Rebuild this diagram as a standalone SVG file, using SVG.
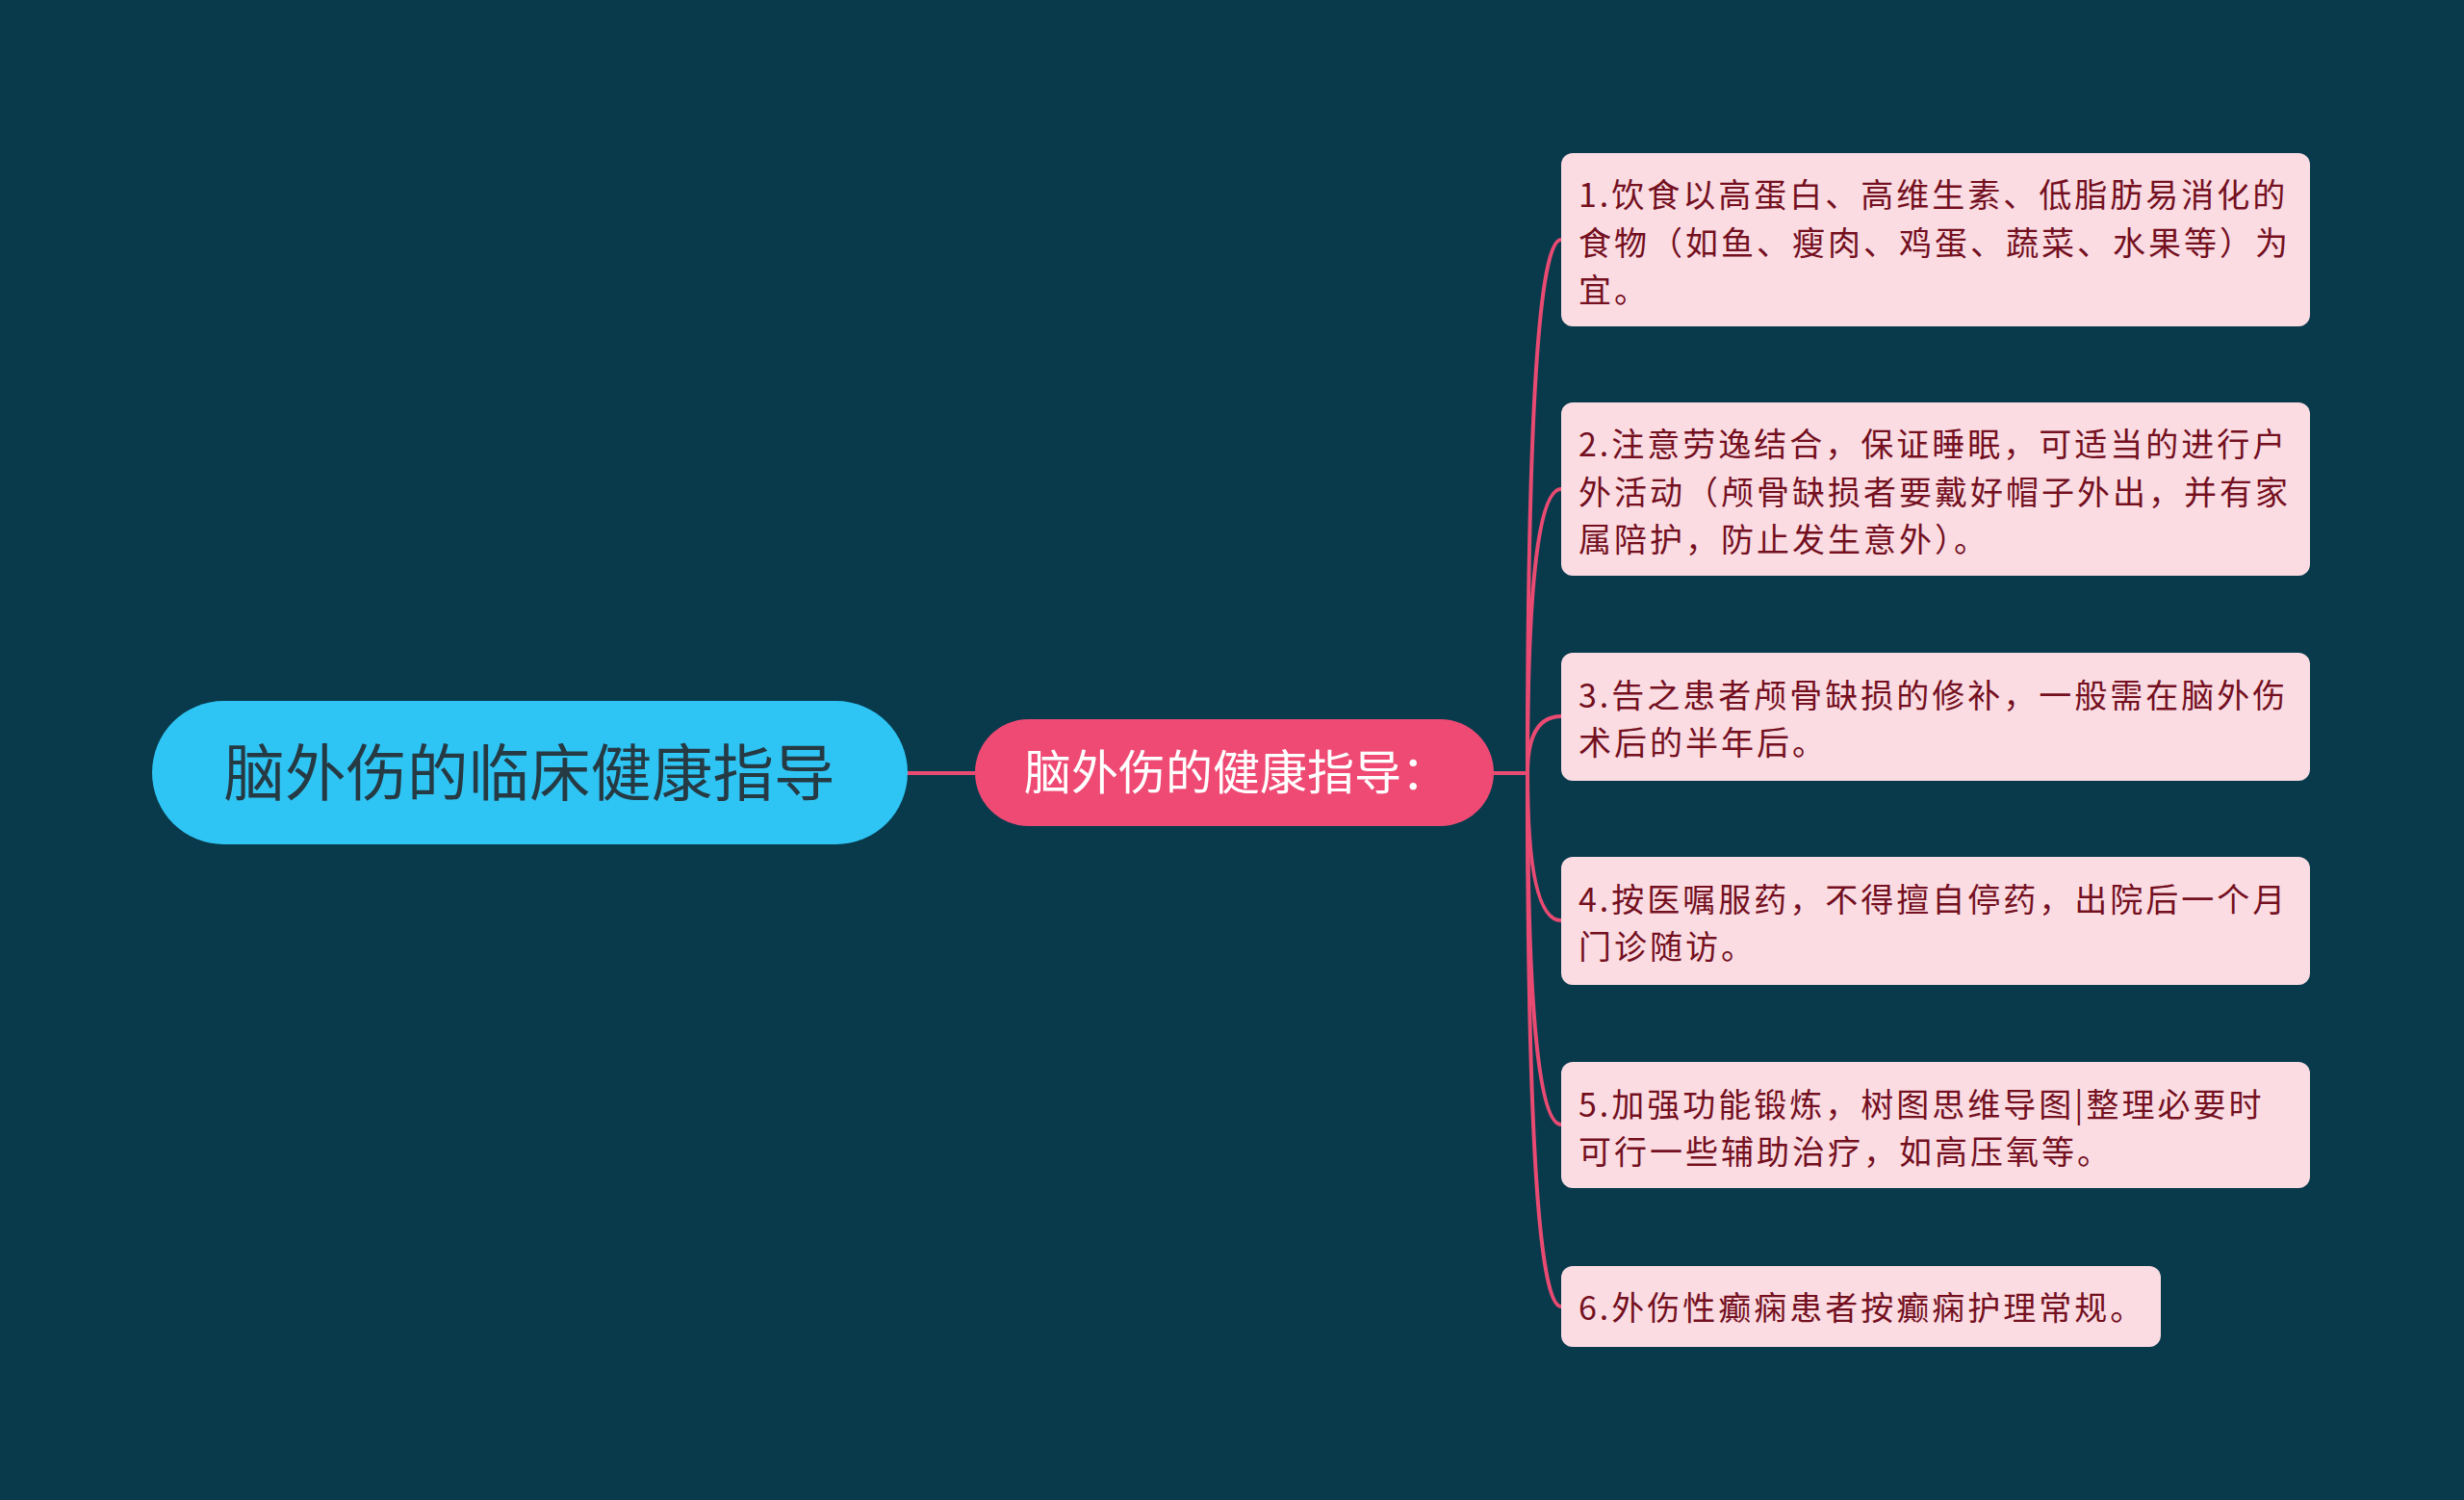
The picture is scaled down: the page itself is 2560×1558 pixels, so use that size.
<svg xmlns="http://www.w3.org/2000/svg" width="2560" height="1558" viewBox="0 0 2560 1558">
<style>
text { font-family: "Noto Sans CJK SC", "Noto Sans", sans-serif; }
.leaf rect { fill: #fbdce3; }
.leaf text { font-size: 34px; letter-spacing: 3px; fill: #74101f; }
.conn { fill: none; stroke: #e94a72; stroke-width: 4; stroke-linecap: round; }
</style>
<rect x="0" y="0" width="2560" height="1558" fill="#083a4c"/>
<g id="connectors">
<path class="conn" d="M943 803 L1013 803"/>
<path class="conn" d="M1552 803 L1587 803"/>
<path class="conn" d="M1587 803 Q1587 249 1622 249"/>
<path class="conn" d="M1587 803 Q1587 508 1622 508"/>
<path class="conn" d="M1587 803 Q1587 744 1622 744"/>
<path class="conn" d="M1587 803 Q1587 956 1622 956"/>
<path class="conn" d="M1587 803 Q1587 1168 1622 1168"/>
<path class="conn" d="M1587 803 Q1587 1357 1622 1357"/>
</g>
<g id="root">
<rect x="158" y="728" width="785" height="149" rx="74.5" fill="#2ec5f5"/>
<text x="550" y="826" font-size="63.5" fill="#263a44" text-anchor="middle">脑外伤的临床健康指导</text>
</g>
<g id="mid">
<rect x="1013" y="747" width="539" height="111" rx="55.5" fill="#ef4a74"/>
<text x="1064" y="820" font-size="49" fill="#ffffff">脑外伤的健康指导：</text>
</g>
<g id="leaf1" class="leaf">
<rect x="1622" y="159" width="778" height="180" rx="12"/>
<text x="1640" y="215"><tspan x="1640" y="215">1.饮食以高蛋白、高维生素、低脂肪易消化的</tspan><tspan x="1640" y="264.5">食物（如鱼、瘦肉、鸡蛋、蔬菜、水果等）为</tspan><tspan x="1640" y="314">宜。</tspan></text>
</g>
<g id="leaf2" class="leaf">
<rect x="1622" y="418" width="778" height="180" rx="12"/>
<text x="1640" y="474"><tspan x="1640" y="474">2.注意劳逸结合，保证睡眠，可适当的进行户</tspan><tspan x="1640" y="523.5">外活动（颅骨缺损者要戴好帽子外出，并有家</tspan><tspan x="1640" y="573">属陪护，防止发生意外）。</tspan></text>
</g>
<g id="leaf3" class="leaf">
<rect x="1622" y="678" width="778" height="133" rx="12"/>
<text x="1640" y="734.5"><tspan x="1640" y="734.5">3.告之患者颅骨缺损的修补，一般需在脑外伤</tspan><tspan x="1640" y="784">术后的半年后。</tspan></text>
</g>
<g id="leaf4" class="leaf">
<rect x="1622" y="890" width="778" height="133" rx="12"/>
<text x="1640" y="946.5"><tspan x="1640" y="946.5">4.按医嘱服药，不得擅自停药，出院后一个月</tspan><tspan x="1640" y="996">门诊随访。</tspan></text>
</g>
<g id="leaf5" class="leaf">
<rect x="1622" y="1103" width="778" height="131" rx="12"/>
<text x="1640" y="1159.5"><tspan x="1640" y="1159.5">5.加强功能锻炼，树图思维导图|整理必要时</tspan><tspan x="1640" y="1209">可行一些辅助治疗，如高压氧等。</tspan></text>
</g>
<g id="leaf6" class="leaf">
<rect x="1622" y="1315" width="623" height="84" rx="12"/>
<text x="1640" y="1371">6.外伤性癫痫患者按癫痫护理常规。</text>
</g>
</svg>
